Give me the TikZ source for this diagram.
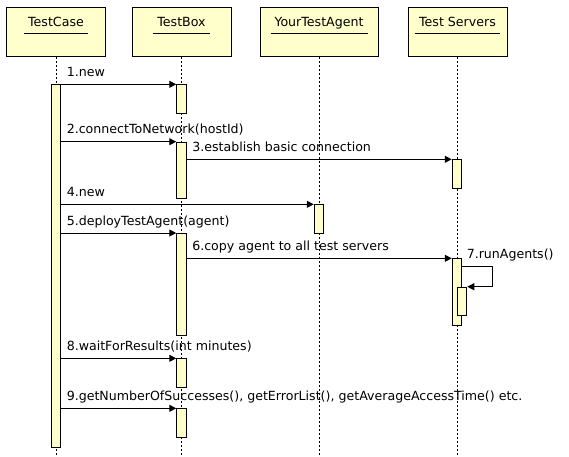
\documentclass[tikz,border=0pt]{standalone}
\usepackage{fontspec}
\setmainfont{DejaVu Sans}
\usetikzlibrary{arrows.meta}
\definecolor{notepaper}{HTML}{FFFFCC}

\begin{document}
\begin{tikzpicture}[x=1pt, y=-1pt, line width=1pt,
    font=\fontsize{12.6}{14}\selectfont,
    headbox/.style={draw, fill=notepaper, minimum width=99pt,
      minimum height=49pt, inner sep=0pt},
    headtext/.style={anchor=base, inner xsep=3.5pt, inner ysep=0pt},
    actbox/.style={draw, fill=notepaper, minimum width=9.5pt,
      inner sep=0pt, anchor=north},
    lifeline/.style={line width=0.8pt, dash pattern=on 2pt off 2pt},
    msg/.style={-{Triangle[length=7pt,width=7pt]}},
    lbl/.style={anchor=base west, inner sep=0pt, xshift=5pt, yshift=8pt}]
    \def\headrow{31.5}

    \useasboundingbox (0,0) rectangle (569,456);
    \coordinate (bottom) at (0,456);

    \node[headbox] (tc) at (56, \headrow) {};
    \node[headbox] (tb) at (181.5, \headrow) {};
    \node[headbox, minimum width=118pt] (ya) at (319, \headrow) {};
    \node[headbox] (ts) at (457.5, \headrow) {};

    \foreach \n/\t in {tc/TestCase, tb/TestBox, ya/YourTestAgent, ts/Test Servers} {
      \node[headtext] (\n-txt) at ([yshift=-20pt]\n.north) {\t};
      \draw ([yshift=-6.7pt]\n-txt.base west) -- ([yshift=-6.7pt]\n-txt.base east);
      \draw[lifeline] (\n.south) -- (\n.south |- bottom);
    }


    \node[actbox, minimum height=363pt] (tca) at (56, 84.3) {};

    \node[actbox, minimum height=29pt] (tb1) at (181.5, 84.3) {};
    \node[actbox, minimum height=56.5pt] (tb2) at (181.5, 141.7) {};
    \node[actbox, minimum height=29pt] (ts1) at (457, 159.3) {};
    \node[actbox, minimum height=29pt] (ya1) at (319, 204.3) {};
    \node[actbox, minimum height=102pt] (tb3) at (181.5, 233) {};
    \node[actbox, minimum height=67pt] (ts2) at (457, 258.3) {};
    \node[actbox, minimum height=28.6pt] (ts3) at (462, 286.7) {};
    \node[actbox, minimum height=29pt] (tb4) at (181.5, 358.3) {};
    \node[actbox, minimum height=29pt] (tb5) at (181.5, 408.3) {};

    \coordinate (loop) at (492.3, 266.7);


    \draw[msg] (tca.east |- tb1.north) node[lbl] {1.new} -- (tb1.north west);

    \draw[msg] (tca.east |- tb2.north) node[lbl] {2.connectToNetwork(hostId)}
      -- (tb2.north west);

    \draw[msg] (tb2.east |- ts1.north) node[lbl] {3.establish basic connection}
      -- (ts1.north west);

    \draw[msg] (tca.east |- ya1.north) node[lbl] {4.new} -- (ya1.north west);

    \draw[msg] (tca.east |- tb3.north) node[lbl] {5.deployTestAgent(agent)}
      -- (tb3.north west);

    \draw[msg] (tb3.east |- ts2.north) node[lbl] {6.copy agent to all test servers}
      -- (ts2.north west);

    \draw[msg] (ts2.east |- loop) node[lbl, xshift=-1pt] {7.runAgents()}
      -- (loop) |- (ts3.north east);

    \draw[msg] (tca.east |- tb4.north) node[lbl] {8.waitForResults(int minutes)}
      -- (tb4.north west);

    \draw[msg] (tca.east |- tb5.north)
      node[lbl] {9.getNumberOfSuccesses(), getErrorList(), getAverageAccessTime() etc.}
      -- (tb5.north west);

  \end{tikzpicture}
\end{document}
